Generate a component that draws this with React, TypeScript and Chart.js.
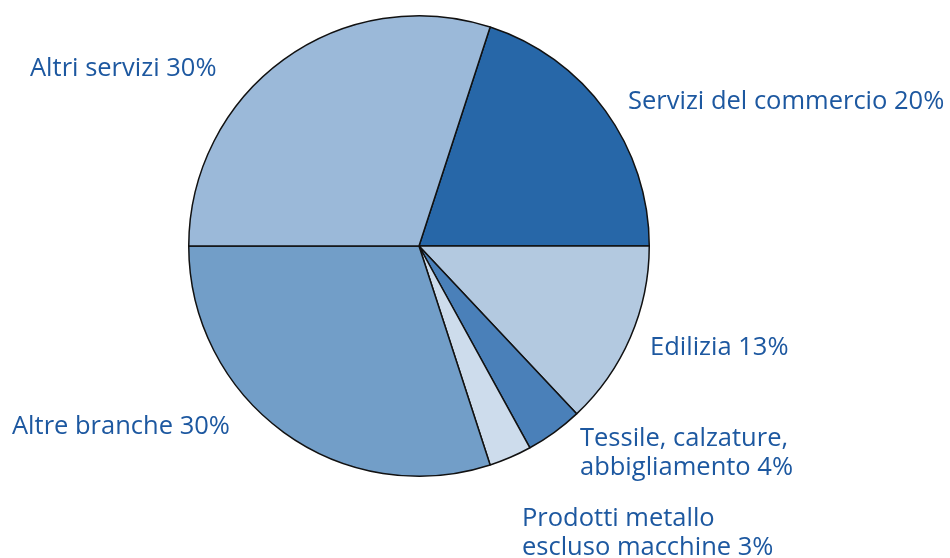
import React, { useEffect, useRef } from "react";
import { Chart, registerables } from "chart.js";

Chart.register(...registerables);

const categories = [
  "Servizi del commercio",
  "Edilizia",
  "Tessile, calzature, abbigliamento",
  "Prodotti metallo escluso macchine",
  "Altre branche",
  "Altri servizi",
];
const values = [20, 13, 4, 3, 30, 30];
const labelLines = [
  ["Servizi del commercio 20%"],
  ["Edilizia 13%"],
  ["Tessile, calzature,", "abbigliamento 4%"],
  ["Prodotti metallo", "escluso macchine 3%"],
  ["Altre branche 30%"],
  ["Altri servizi 30%"],
];
const colors = ["#2767a8", "#b3c9e0", "#4a80b9", "#cddcec", "#729ec8", "#9bb9d9"];
// label offsets from pie centre (px): left x, middle y of first line
const labelOffsets = [
  [209, -144],
  [231, 102],
  [161, 193],
  [103, 273],
  [-407, 181],
  [-389, -177],
];

const labelPlugin = {
  id: "outerLabels",
  afterDraw(chart: any) {
    const meta = chart.getDatasetMeta(0);
    const arc = meta.data[0];
    if (!arc) return;
    const cx = arc.x;
    const cy = arc.y;
    const ctx = chart.ctx;
    ctx.save();
    ctx.fillStyle = "#1d58a0";
    ctx.font = "25.5px 'Open Sans', sans-serif";
    ctx.textAlign = "left";
    ctx.textBaseline = "middle";
    labelLines.forEach((lines, i) => {
      const [dx, dy] = labelOffsets[i];
      lines.forEach((t, j) => {
        ctx.fillText(t, cx + dx, cy + dy + j * 29);
      });
    });
    ctx.restore();
  },
};

export default function App() {
  const ref = useRef<HTMLCanvasElement | null>(null);
  useEffect(() => {
    document.body.style.margin = "0";
    const chart = new Chart(ref.current!, {
      type: "pie",
      data: {
        labels: categories,
        datasets: [
          {
            data: values,
            backgroundColor: colors,
            borderColor: "#111111",
            borderWidth: 1.5,
          },
        ],
      },
      options: {
        animation: false,
        responsive: false,
        rotation: 18,
        layout: { padding: { left: 188, right: 300, top: 15, bottom: 81 } },
        plugins: {
          legend: { display: false },
          tooltip: { enabled: false },
        },
      },
      plugins: [labelPlugin],
    });
    return () => chart.destroy();
  }, []);
  return (
    <div style={{ width: 950, height: 558 }}>
      <canvas ref={ref} width={950} height={558} />
    </div>
  );
}
